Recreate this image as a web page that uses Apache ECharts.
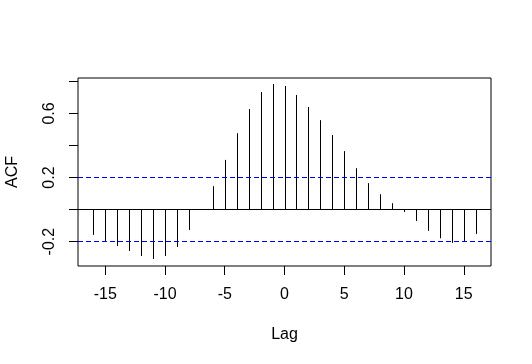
<!DOCTYPE html>
<html>
<head>
<meta charset="utf-8">
<script src="https://cdn.jsdelivr.net/npm/echarts@6/dist/echarts.min.js"></script>
<style>
  html, body { margin: 0; padding: 0; background: #fff; }
  #chart { width: 532px; height: 364px; }
</style>
</head>
<body>
<div id="chart"></div>
<script>
// lags and cross-correlation values
const lags = [-16, -15, -14, -13, -12, -11, -10, -9, -8, -7, -6, -5, -4, -3, -2, -1,
  0, 1, 2, 3, 4, 5, 6, 7, 8, 9, 10, 11, 12, 13, 14, 15, 16];
const acf = [-0.158, -0.200, -0.227, -0.258, -0.290, -0.308, -0.290, -0.233, -0.127, 0.0,
  0.146, 0.310, 0.477, 0.627, 0.733, 0.783,
  0.771, 0.715, 0.640, 0.558, 0.465, 0.365, 0.258, 0.165, 0.096, 0.040,
  -0.015, -0.071, -0.133, -0.179, -0.208, -0.200, -0.152];
const xTicks = [-15, -10, -5, 0, 5, 10, 15];
const yTicks = [-0.2, 0, 0.2, 0.4, 0.6, 0.8];
const yLabels = [-0.2, 0.2, 0.6];
const ciLimit = 0.203;

const font = 'Liberation Sans, Arial, sans-serif';
const chart = echarts.init(document.getElementById('chart'));

chart.setOption({
  animation: false,
  grid: {
    left: 78, right: 41, top: 78, bottom: 98,
    outerBoundsMode: 'none', containLabel: false,
    show: true, borderColor: '#000', borderWidth: 1, backgroundColor: 'transparent'
  },
  xAxis: {
    type: 'value',
    min: -17.28, max: 17.28,
    name: 'Lag', nameLocation: 'middle', nameGap: 61,
    nameTextStyle: { fontFamily: font, fontSize: 16, color: '#000' },
    axisLine: { show: false, onZero: false },
    splitLine: { show: false },
    axisTick: { show: true, length: 9, lineStyle: { color: '#000' }, customValues: xTicks },
    axisLabel: {
      fontFamily: font, fontSize: 16, color: '#000', margin: 21,
      customValues: xTicks,
      formatter: v => String(v)
    }
  },
  yAxis: {
    type: 'value',
    min: -0.352, max: 0.821,
    name: 'ACF', nameLocation: 'middle', nameGap: 57, nameRotate: 90,
    nameTextStyle: { fontFamily: font, fontSize: 16, color: '#000' },
    axisLine: { show: false, onZero: false },
    splitLine: { show: false },
    axisTick: { show: true, length: 9, lineStyle: { color: '#000' }, customValues: yTicks },
    axisLabel: {
      fontFamily: font, fontSize: 16, color: '#000', margin: 20, rotate: 90,
      customValues: yLabels,
      formatter: v => String(Math.round(v * 10) / 10)
    }
  },
  series: [
    {
      type: 'custom',
      data: lags.map((l, i) => [l, acf[i]]),
      renderItem: function (params, api) {
        const p0 = api.coord([api.value(0), 0]);
        const p1 = api.coord([api.value(0), api.value(1)]);
        return {
          type: 'line',
          shape: { x1: Math.round(p0[0]) + 0.5, y1: p0[1], x2: Math.round(p1[0]) + 0.5, y2: p1[1] },
          style: { stroke: '#000', lineWidth: 1 }
        };
      },
      markLine: {
        silent: true,
        symbol: 'none',
        label: { show: false },
        data: [
          { yAxis: 0, lineStyle: { color: '#000', type: 'solid', width: 1 } },
          { yAxis: ciLimit, lineStyle: { color: '#0000ff', type: [5, 3], width: 1 } },
          { yAxis: -ciLimit, lineStyle: { color: '#0000ff', type: [5, 3], width: 1 } }
        ]
      }
    }
  ]
});
</script>
</body>
</html>
